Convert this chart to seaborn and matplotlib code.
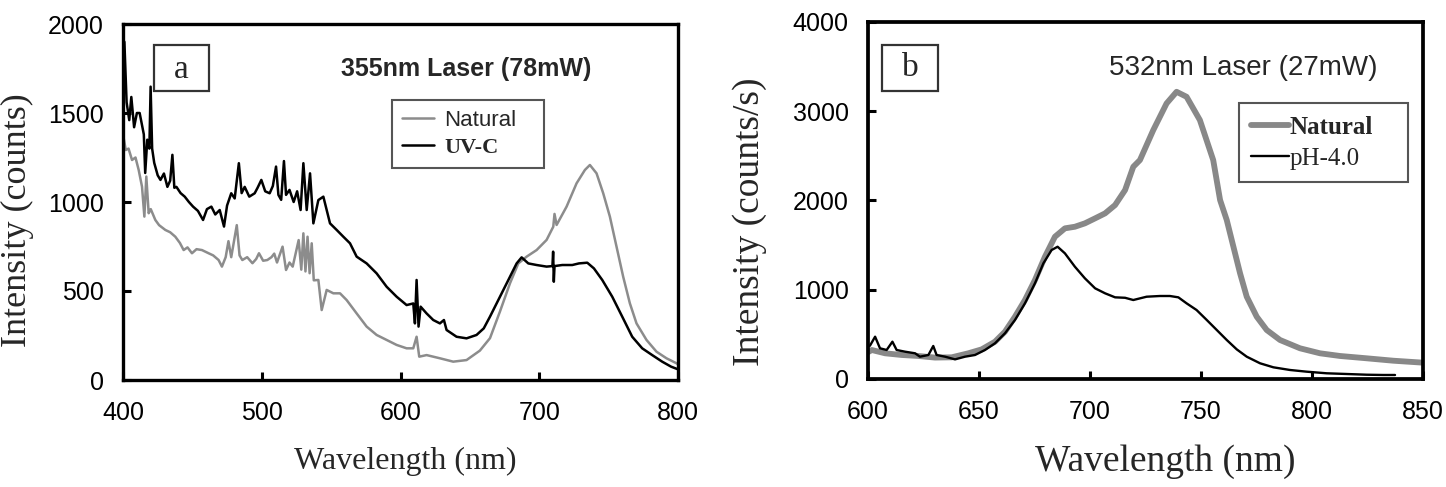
import matplotlib
matplotlib.use("Agg")
import matplotlib.pyplot as plt
import seaborn as sns
from matplotlib.patches import Rectangle

# ---------------- Panel a : 355 nm laser ----------------
wl_a_nat = [400, 402, 404, 406.5, 409, 411.3, 413.7, 415.4, 416.8, 418.5, 420, 423.3, 426, 430.5, 434,
            437.7, 441, 443.7, 446.5, 449.7, 453, 456.9, 461.7, 465, 468.9, 471.3, 474, 476, 478, 482,
            484, 486, 489.5, 493.3, 496, 498, 501, 504, 507, 509, 511, 515, 517.5, 520, 522.3, 526.6,
            528.5, 530, 531.5, 533, 534.5, 536, 537.5, 540.8, 543.2, 546.8, 551.6, 556.4, 561.2, 568.4,
            575.6, 582.8, 590, 597.2, 604.4, 609.2, 611.6, 613.5, 618.8, 628.4, 638, 647.6, 657.2, 664.5,
            671.7, 678.9, 684.9, 690.9, 698.1, 705.3, 710.1, 711, 712.5, 719.7, 726.9, 732.9, 736.5,
            741.3, 746.1, 750.9, 755.7, 760.5, 765.3, 770.1, 777.3, 784.5, 791.7, 798.9, 800]
int_a_nat = [1380, 1292, 1300, 1236, 1250, 1180, 1086, 918, 1143, 937, 960, 899, 870, 843, 830,
             805, 770, 730, 745, 712, 735, 730, 712, 700, 674, 637, 690, 780, 690, 870,
             700, 674, 690, 656, 680, 712, 670, 674, 690, 710, 660, 749, 618, 660, 637, 786,
             620, 824, 610, 805, 600, 768, 560, 562, 393, 506, 487, 487, 449, 374,
             300, 253, 225, 197, 178, 178, 243, 131, 140, 122, 103, 112, 165, 235,
             385, 543, 655, 693, 730, 787, 861, 933, 871, 974, 1105, 1180, 1208,
             1161, 1049, 918, 749, 580, 431, 318, 225, 159, 122, 94, 88]

wl_a_uvc = [400, 401, 402.6, 404.5, 406, 408, 410, 412, 413.5, 415, 416, 417.5, 419, 419.9, 421,
            422.5, 425, 427, 429.5, 432, 434, 435.6, 437, 438.5, 441.5, 444.5, 447.5, 450.5, 454,
            457.7, 460.5, 463.7, 466.5, 469.7, 472.8, 475, 478, 480.5, 483.5, 485.5, 487.7, 491,
            494.9, 497, 499.7, 502.5, 505.7, 508, 510.3, 512, 514, 516, 517.5, 520, 523, 525.5,
            528, 530, 532.4, 534.8, 537.2, 540.8, 544.4, 546.8, 549.2, 554, 558.8, 563.6, 568.4,
            575.6, 582.8, 590, 597.2, 604.4, 609.2, 610.4, 611.6, 613, 614.5, 618.8, 623.6, 628.4,
            631.3, 633.2, 640.4, 647.6, 654.8, 660, 664.5, 671.7, 678.9, 683.7, 687.3, 692.1,
            698.1, 705.3, 709.5, 710, 710.5, 711, 716.6, 723.8, 728.6, 734.6, 739.4, 745.4, 752.6,
            759.8, 767, 774.2, 781.4, 788.6, 795, 800]
int_a_uvc = [1700, 1900, 1560, 1460, 1590, 1420, 1500, 1500, 1440, 1380, 1163, 1350, 1300, 1648, 1300,
             1220, 1150, 1124, 1160, 1085, 1120, 1265, 1080, 1085, 1050, 1030, 1000, 974, 950,
             899, 960, 974, 930, 955, 862, 980, 1049, 1020, 1218, 1050, 1085, 1030,
             1049, 1080, 1124, 1060, 1049, 1090, 1199, 1040, 1012, 1230, 1040, 1068, 1000, 1060,
             955, 1218, 955, 1161, 880, 1011, 1030, 955, 880, 843, 805, 768, 693,
             655, 599, 524, 468, 421, 430, 318, 562, 300, 412, 374, 337, 318,
             337, 281, 243, 234, 253, 290, 356, 468, 580, 655, 689, 655,
             646, 637, 640, 721, 552, 640, 646, 646, 655, 659, 627, 562, 468,
             356, 243, 178, 140, 103, 75, 60]

# ---------------- Panel b : 532 nm laser ----------------
wl_b_nat = [600, 601.7, 607.7, 615.2, 622.7, 630.2, 637.7, 645.2, 651.2, 657.2, 661.7, 666.2, 670.7,
            675.2, 679.7, 684.2, 688.7, 693.2, 697.7, 702.3, 706.8, 711.3, 715.8, 719.5, 722.5,
            728.5, 734.5, 739, 743.5, 749.5, 755.5, 758.6, 761.6, 764.6, 767.6, 770.6, 775.1,
            779.6, 785.6, 794.6, 803.6, 812.6, 824.6, 836.6, 850]
int_b_nat = [300, 325, 288, 269, 258, 240, 243, 288, 332, 418, 530, 698, 885,
             1109, 1370, 1594, 1688, 1706, 1744, 1800, 1856, 1949, 2117, 2378, 2453,
             2789, 3088, 3218, 3162, 2901, 2453, 2005, 1781, 1482, 1184, 922, 698,
             549, 437, 344, 288, 258, 232, 205, 183]

wl_b_ph4 = [600, 600.9, 603.2, 605.4, 608.4, 611, 612.9, 616.7, 621.2, 623.4, 627.2, 629.4, 630.9,
            634.7, 639.2, 643.7, 648.2, 652.7, 657.2, 661.7, 666.2, 670.7, 675.2, 679, 682.7,
            685.4, 688.7, 693.2, 697.7, 702.3, 706.8, 711.3, 715.8, 719.5, 725.5, 731.5, 736,
            739.8, 743.5, 748, 752.6, 757.1, 761.6, 766.1, 770.6, 776.6, 782.6, 790.1, 797.6,
            806.6, 815.6, 824.6, 832.1, 837.4]
int_b_ph4 = [362, 374, 474, 344, 325, 418, 325, 306, 288, 250, 269, 370, 269,
             250, 220, 250, 269, 325, 400, 512, 661, 848, 1072, 1296, 1445,
             1482, 1408, 1258, 1128, 1016, 960, 915, 910, 885, 922, 930, 930,
             915, 848, 773, 661, 549, 437, 332, 250, 176, 131, 101, 82,
             64, 56, 48, 45, 45]

# ---------------- Text ----------------
legend_a = ["Natural", "UV-C"]
legend_b = ["Natural", "pH-4.0"]
title_a = "355nm Laser (78mW)"
title_b = "532nm Laser (27mW)"
xlabel = "Wavelength (nm)"
ylabel_a = "Intensity (counts)"
ylabel_b = "Intensity (counts/s)"

sns.set_style("ticks")
plt.rcParams['font.family'] = ['Liberation Sans', 'DejaVu Sans']

W, H = 1446, 487
fig = plt.figure(figsize=(W / 100, H / 100), dpi=100)
ax1 = fig.add_axes([123 / W, (H - 380) / H, 555 / W, 356 / H])
ax2 = fig.add_axes([868 / W, (H - 379) / H, 555 / W, 357 / H])

GRAY_A = '#8c8c8c'
GRAY_B = '#888888'

sns.lineplot(x=wl_a_nat, y=int_a_nat, ax=ax1, color=GRAY_A, lw=1.8, label=legend_a[0],
             estimator=None, errorbar=None)
sns.lineplot(x=wl_a_uvc, y=int_a_uvc, ax=ax1, color='black', lw=1.8, label=legend_a[1],
             estimator=None, errorbar=None)
sns.lineplot(x=wl_b_nat, y=int_b_nat, ax=ax2, color=GRAY_B, lw=4.2, label=legend_b[0],
             estimator=None, errorbar=None)
sns.lineplot(x=wl_b_ph4, y=int_b_ph4, ax=ax2, color='black', lw=1.7, label=legend_b[1],
             estimator=None, errorbar=None)

ax1.set_xlim(400, 800)
ax1.set_ylim(0, 2000)
ax1.set_xticks([400, 500, 600, 700, 800])
ax1.set_yticks([0, 500, 1000, 1500, 2000])
ax2.set_xlim(600, 850)
ax2.set_ylim(0, 4000)
ax2.set_xticks([600, 650, 700, 750, 800, 850])
ax2.set_yticks([0, 1000, 2000, 3000, 4000])

for ax, slw in ((ax1, 2.4), (ax2, 2.7)):
    for sp in ax.spines.values():
        sp.set_visible(True)
        sp.set_linewidth(slw)
        sp.set_color('black')
    ax.tick_params(axis='both', direction='in', length=6, width=2.2, labelsize=18,
                   colors='black')
    ax.tick_params(axis='y', pad=14)
    ax.tick_params(axis='x', pad=15)
    for lab in ax.get_xticklabels() + ax.get_yticklabels():
        lab.set_family(['Liberation Sans', 'DejaVu Sans'])

# axis labels
ax1.set_xlabel(xlabel, family='Liberation Serif', fontsize=23, va='center')
ax1.xaxis.set_label_coords(0.508, -0.23)
ax1.set_ylabel(ylabel_a, family='Liberation Serif', fontsize=26, va='center')
ax1.yaxis.set_label_coords(-0.191, 0.449)
ax2.set_xlabel(xlabel, family='Liberation Serif', fontsize=27, va='center')
ax2.xaxis.set_label_coords(0.535, -0.232)
ax2.set_ylabel(ylabel_b, family='Liberation Serif', fontsize=27, va='center')
ax2.yaxis.set_label_coords(-0.213, 0.44)

# titles inside plots
ax1.text(0.618, 0.874, title_a, transform=ax1.transAxes, ha='center', va='center',
         fontsize=18, fontweight='bold')
ax2.text(0.676, 0.871, title_b, transform=ax2.transAxes, ha='center', va='center',
         fontsize=20)

# panel letter boxes
ax1.add_patch(Rectangle((0.056, 0.812), 0.099, 0.129, transform=ax1.transAxes,
                        facecolor='white', edgecolor='#333333', lw=1.6, zorder=5))
ax1.text(0.1055, 0.872, "a", transform=ax1.transAxes, ha='center', va='center',
         family='Liberation Serif', fontsize=24, zorder=6)
ax2.add_patch(Rectangle((0.025, 0.807), 0.101, 0.129, transform=ax2.transAxes,
                        facecolor='white', edgecolor='#333333', lw=1.6, zorder=5))
ax2.text(0.0755, 0.872, "b", transform=ax2.transAxes, ha='center', va='center',
         family='Liberation Serif', fontsize=24, zorder=6)

# legends
h1, l1 = ax1.get_legend_handles_labels()
leg1 = ax1.legend(h1, l1, loc='upper left', bbox_to_anchor=(0.485, 0.598, 0.274, 0.189),
                  mode='expand', frameon=True, fancybox=False, edgecolor='#555555',
                  framealpha=1, fontsize=16, handlelength=1.45, handletextpad=0.45,
                  borderpad=0.45, labelspacing=0.3, borderaxespad=0)
leg1.get_frame().set_linewidth(1.5)
t = leg1.get_texts()
t[0].set_family('Liberation Sans')
t[1].set_family('Liberation Serif')
t[1].set_fontweight('bold')

h2, l2 = ax2.get_legend_handles_labels()
leg2 = ax2.legend(h2, l2, loc='upper left', bbox_to_anchor=(0.668, 0.557, 0.305, 0.216),
                  mode='expand', frameon=True, fancybox=False, edgecolor='#555555',
                  framealpha=1, fontsize=18, handlelength=1.5, handletextpad=0.05,
                  borderpad=0.5, labelspacing=0.35, borderaxespad=0)
leg2.get_frame().set_linewidth(1.5)
t = leg2.get_texts()
t[0].set_family('Liberation Serif')
t[0].set_fontweight('bold')
t[1].set_family('Liberation Serif')

fig.savefig("out.png", dpi=100, facecolor='white')
